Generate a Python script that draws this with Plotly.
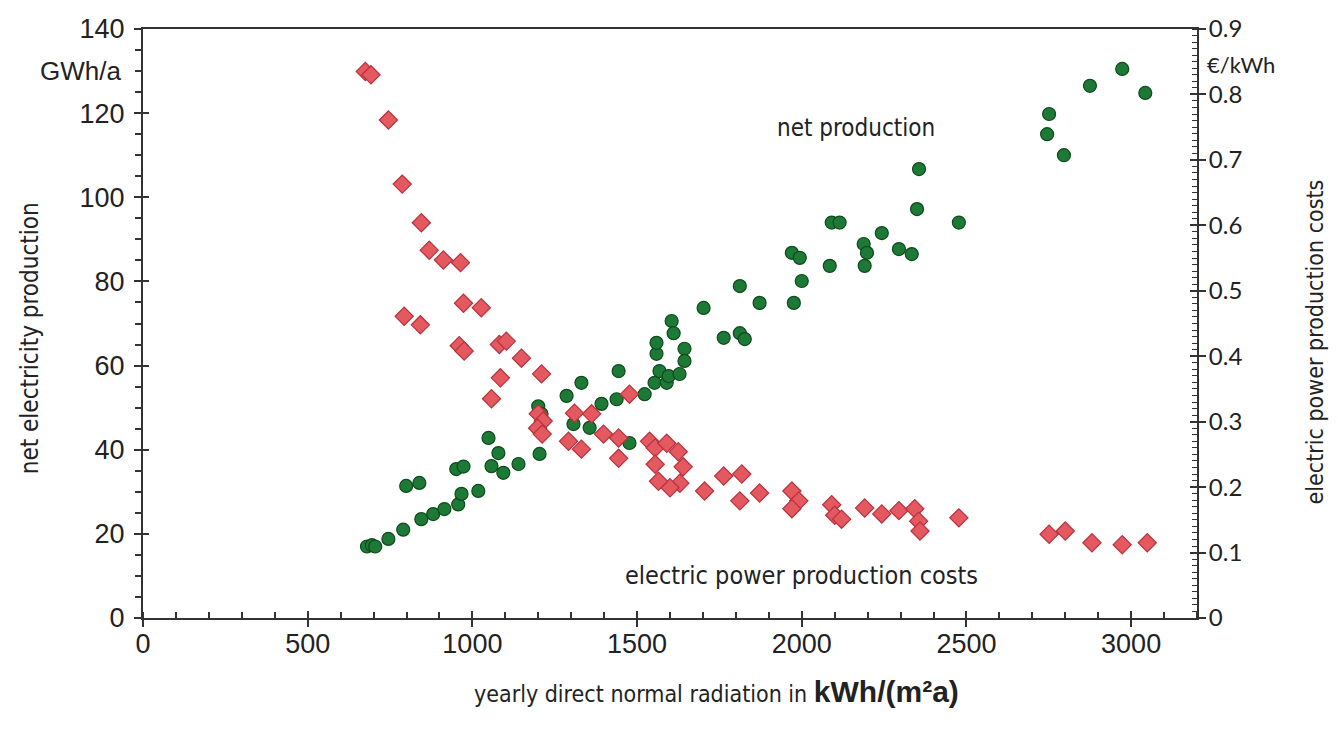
import plotly.graph_objects as go

# ---- data ----
# net electricity production (GWh/a) vs yearly DNI (kWh/(m²a))
prod_x = [680, 695, 705, 745, 790, 845, 881, 915, 957, 967, 1018, 799, 839, 951, 973,
          1049, 1079, 1058, 1094, 1140, 1204, 1200, 1210, 1286, 1331, 1307, 1356, 1392,
          1438, 1444, 1477, 1523, 1553, 1559, 1559, 1568, 1590, 1605, 1611, 1596, 1629,
          1644, 1644, 1702, 1763, 1812, 1827, 1812, 1872, 1976, 2000, 1970, 1994, 2085,
          2091, 2115, 2188, 2198, 2191, 2243, 2295, 2334, 2350, 2356, 2477, 2745, 2751,
          2796, 2875, 2973, 3043]
prod_y = [17.0, 17.3, 17.0, 18.8, 21.0, 23.5, 24.7, 25.9, 27.0, 29.5, 30.2, 31.4, 32.1, 35.4, 36.0,
          42.8, 39.2, 36.1, 34.5, 36.6, 39.0, 50.3, 48.5, 52.8, 55.9, 46.1, 45.2, 50.9,
          52.0, 58.7, 41.6, 53.2, 55.9, 62.8, 65.4, 58.7, 55.9, 70.6, 67.7, 57.5, 58.0,
          64.0, 61.1, 73.7, 66.6, 67.7, 66.3, 78.9, 74.9, 74.9, 80.1, 86.8, 85.6, 83.7,
          94.0, 94.0, 88.9, 86.8, 83.7, 91.5, 87.7, 86.5, 97.2, 106.7, 94.0, 115.0, 119.8,
          110.0, 126.5, 130.5, 124.8]

# electric power production costs (€/kWh)
cost_x = [675, 692, 745, 787, 845, 869, 912, 964, 973, 1027, 793, 842, 960, 975, 1082,
          1103, 1149, 1210, 1085, 1058, 1200, 1215, 1198, 1212, 1310, 1362, 1292, 1331,
          1398, 1444, 1444, 1477, 1538,
          1555, 1590, 1625, 1640, 1630, 1600, 1565, 1555,
          1705, 1763, 1818, 1812, 1872, 1970, 1991, 1970, 2091, 2100, 2121, 2191, 2243,
          2295, 2343, 2355, 2359, 2477, 2751, 2800, 2881, 2973, 3049]
cost_y = [0.835, 0.830, 0.761, 0.663, 0.604, 0.562, 0.547, 0.543, 0.481, 0.474, 0.461, 0.448,
          0.416, 0.408, 0.418, 0.423, 0.397, 0.373, 0.367, 0.335, 0.312, 0.301, 0.290, 0.281,
          0.313, 0.312, 0.270, 0.258, 0.281, 0.275, 0.244, 0.342, 0.270,
          0.260, 0.267, 0.254, 0.231, 0.206, 0.199, 0.209, 0.235,
          0.194, 0.217, 0.220, 0.179, 0.191, 0.194, 0.179, 0.167, 0.173, 0.157, 0.151,
          0.168, 0.159, 0.164, 0.167, 0.148, 0.133, 0.153, 0.128, 0.133, 0.115, 0.112, 0.115]

x_ticks = [0, 500, 1000, 1500, 2000, 2500, 3000]
y_ticks = [0, 20, 40, 60, 80, 100, 120, 140]
y2_ticks = [0, 0.1, 0.2, 0.3, 0.4, 0.5, 0.6, 0.7, 0.8, 0.9]
y2_labels = ["0", "0.1", "0.2", "0.3", "0.4", "0.5", "0.6", "0.7", "0.8", "0.9"]

ARIAL = "Liberation Sans, Arial, sans-serif"
COND = "Liberation Sans Narrow, DejaVu Sans Condensed, sans-serif"
CAL = "Lato, Open Sans, sans-serif"
INK = "#222222"
AX = "#333333"

fig = go.Figure()

fig.add_trace(go.Scatter(
    x=cost_x, y=cost_y, mode="markers", yaxis="y2", name="costs",
    marker=dict(symbol="diamond", size=14, color="#e4585f",
                line=dict(color="#b8323e", width=1.2)),
    showlegend=False))

fig.add_trace(go.Scatter(
    x=prod_x, y=prod_y, mode="markers", name="net production",
    marker=dict(symbol="circle", size=13, color="#1d7a36",
                line=dict(color="#0d4a1c", width=1.2)),
    showlegend=False))

# invisible helper traces for the inner halves of the crossing major ticks
fig.add_trace(go.Scatter(x=[None], y=[None], xaxis="x2", yaxis="y3",
                         showlegend=False, hoverinfo="skip"))
fig.add_trace(go.Scatter(x=[None], y=[None], yaxis="y4",
                         showlegend=False, hoverinfo="skip"))

fig.update_layout(
    width=1338, height=729,
    margin=dict(l=135, r=149, t=21, b=119, autoexpand=False),
    paper_bgcolor="white", plot_bgcolor="white",
    showlegend=False,
    xaxis=dict(
        range=[0, 3200], tickvals=x_ticks, showgrid=False, zeroline=False,
        showline=True, linecolor=AX, linewidth=2, mirror=True,
        ticks="outside", ticklen=7, tickwidth=2, tickcolor=AX,
        minor=dict(dtick=100, tick0=0, ticks="inside", ticklen=6, tickwidth=1.5, tickcolor=AX),
        tickfont=dict(family=ARIAL, size=27, color=INK), ticklabelstandoff=-6,
    ),
    xaxis2=dict(
        overlaying="x", range=[0, 3200], tickvals=x_ticks, showticklabels=False,
        showgrid=False, zeroline=False, showline=False,
        ticks="inside", ticklen=7, tickwidth=2, tickcolor=AX, anchor="y3",
    ),
    yaxis=dict(
        range=[0, 140], tickvals=y_ticks, showgrid=False, zeroline=False,
        showline=True, linecolor=AX, linewidth=2,
        ticks="outside", ticklen=7, tickwidth=2, tickcolor=AX,
        minor=dict(dtick=5, tick0=0, ticks="outside", ticklen=6, tickwidth=1.5, tickcolor=AX),
        tickfont=dict(family=ARIAL, size=27, color=INK), ticklabelstandoff=4,
    ),
    yaxis3=dict(
        overlaying="y", range=[0, 140], tickvals=y_ticks, showticklabels=False,
        showgrid=False, zeroline=False, showline=False, anchor="x2",
        ticks="inside", ticklen=6, tickwidth=2, tickcolor=AX,
    ),
    yaxis2=dict(
        overlaying="y", side="right", range=[0, 0.9],
        tickvals=y2_ticks, ticktext=y2_labels, showgrid=False, zeroline=False,
        showline=True, linecolor=AX, linewidth=2,
        ticks="outside", ticklen=7, tickwidth=2, tickcolor=AX,
        minor=dict(dtick=0.01, tick0=0, ticks="inside", ticklen=5, tickwidth=1.2, tickcolor=AX),
        tickfont=dict(family=CAL, size=24, color=INK), ticklabelstandoff=-2,
    ),
    yaxis4=dict(
        overlaying="y", side="right", range=[0, 0.9], tickvals=y2_ticks,
        showticklabels=False, showgrid=False, zeroline=False, showline=False,
        ticks="inside", ticklen=7, tickwidth=2, tickcolor=AX,
    ),
)

# axis titles placed as annotations
fig.add_annotation(x=1740, xref="x", xanchor="center", y=0, yref="paper", yshift=-73,
                   yanchor="middle",
                   text='yearly direct normal radiation in <span style="font-family:Liberation Sans, Arial;font-size:30px"><b>kWh/(m²a)</b></span>',
                   showarrow=False, font=dict(family=COND, size=23, color=INK))
fig.add_annotation(x=0, xref="paper", xanchor="center", xshift=-113, y=66.5, yref="y",
                   text="net electricity production", textangle=-90, showarrow=False,
                   font=dict(family=COND, size=24, color=INK))
fig.add_annotation(x=1, xref="paper", xanchor="center", xshift=118, y=65.5, yref="y",
                   text="electric power production costs", textangle=-90, showarrow=False,
                   font=dict(family=COND, size=23, color=INK))

fig.add_annotation(x=0, xref="paper", xanchor="right", xshift=-20, y=130, yref="y",
                   text="GWh/a", showarrow=False,
                   font=dict(family=ARIAL, size=26, color=INK))
fig.add_annotation(x=1, xref="paper", xanchor="left", xshift=8, y=0.845, yref="y2",
                   text="€/kWh", showarrow=False,
                   font=dict(family=CAL, size=22, color=INK))
fig.add_annotation(x=2165, y=116.5, xref="x", yref="y", text="net production",
                   showarrow=False, font=dict(family=COND, size=24, color=INK))
fig.add_annotation(x=1998, y=10, xref="x", yref="y", text="electric power production costs",
                   showarrow=False, font=dict(family=COND, size=25, color=INK))

fig.write_html("out.html")
